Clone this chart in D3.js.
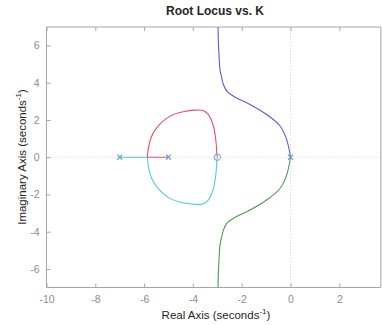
<!DOCTYPE html>
<html>
<head>
<meta charset="utf-8">
<script src="https://cdn.jsdelivr.net/npm/d3@7"></script>
<style>
body{margin:0;background:#fff;}
svg{display:block;font-family:"Liberation Sans",Arial,sans-serif;}
</style>
</head>
<body>
<script>
/* root locus branches: [real, imag] */
var redAxisSeg = [[-5,0],[-5.87,0]];
var cyanAxisSeg = [[-7,0],[-5.87,0]];
var redBranch = [[-5.87,0],[-5.82,0.5],[-5.7,1.1],[-5.48,1.59],[-4.94,2.21],[-4.39,2.45],[-3.9,2.53],[-3.6,2.51],[-3.37,2.3],[-3.16,1.68],[-3.05,0.79],[-3.02,0.2],[-3,0]];
var cyanBranch = [[-5.87,0],[-5.82,-0.5],[-5.7,-1.1],[-5.48,-1.59],[-4.94,-2.21],[-4.39,-2.45],[-3.9,-2.53],[-3.6,-2.51],[-3.37,-2.3],[-3.16,-1.68],[-3.05,-0.79],[-3.02,-0.2],[-3,0]];
var blueBranch = [[0,0],[-0.16,0.96],[-0.43,1.68],[-0.98,2.3],[-1.66,2.84],[-2.34,3.28],[-2.61,3.55],[-2.75,3.91],[-2.84,4.4],[-2.89,4.71],[-2.93,5.5],[-2.96,6.3],[-2.97,7.2]];
var greenBranch = [[0,0],[-0.16,-0.96],[-0.43,-1.68],[-0.98,-2.3],[-1.66,-2.84],[-2.34,-3.28],[-2.61,-3.55],[-2.75,-3.91],[-2.84,-4.4],[-2.89,-4.71],[-2.93,-5.5],[-2.96,-6.3],[-2.97,-7.2]];
var poles = [-7,-5,0];
var zeros = [-3];
var xTicks = [-10,-8,-6,-4,-2,0,2];
var yTicks = [-6,-4,-2,0,2,4,6];

var width = 382, height = 325;
var mLeft = 46.5, mRight = 380.8, mTop = 27, mBottom = 287.5;
var x = d3.scaleLinear().domain([-10,3.7]).range([mLeft,mRight]);
var y = d3.scaleLinear().domain([-7,7]).range([mBottom,mTop]);
var fmt = function(d){return String(d);};

var svg = d3.select("body").append("svg").attr("width",width).attr("height",height);
var axisCol = "#a6a6a6", textCol = "#8c8c8c";

svg.append("defs").append("clipPath").attr("id","clip").append("rect")
	.attr("x",mLeft).attr("y",mTop).attr("width",mRight-mLeft).attr("height",mBottom-mTop);

// dotted zero lines
svg.append("line").attr("x1",mLeft).attr("x2",mRight).attr("y1",y(0)).attr("y2",y(0))
	.attr("stroke","#d4d4d4").attr("stroke-width",1).attr("stroke-dasharray","1,2");
svg.append("line").attr("x1",x(0)).attr("x2",x(0)).attr("y1",mTop).attr("y2",mBottom)
	.attr("stroke","#d4d4d4").attr("stroke-width",1).attr("stroke-dasharray","1,2");

// axes
var xAxis = svg.append("g").attr("transform","translate(0,"+mBottom+")")
	.call(d3.axisBottom(x).tickValues(xTicks).tickSize(-4).tickPadding(8).tickFormat(fmt));
var xTop = svg.append("g").attr("transform","translate(0,"+mTop+")")
	.call(d3.axisTop(x).tickValues(xTicks).tickSize(-4).tickFormat(""));
var yAxis = svg.append("g").attr("transform","translate("+mLeft+",0)")
	.call(d3.axisLeft(y).tickValues(yTicks).tickSize(-4).tickPadding(7).tickFormat(fmt));
svg.append("line").attr("x1",mRight).attr("x2",mRight).attr("y1",mTop).attr("y2",mBottom)
	.attr("stroke",axisCol).attr("stroke-width",1);
[xAxis,xTop,yAxis].forEach(function(g){
	g.selectAll(".domain").attr("stroke",axisCol).attr("stroke-width",1);
	g.selectAll(".tick line").attr("stroke",axisCol);
	g.selectAll("text").attr("fill",textCol).attr("font-size","10.5px").attr("font-family","Liberation Sans, Arial, sans-serif");
});
xTop.select(".domain").attr("d","M"+mLeft+",0H"+mRight);
xAxis.select(".domain").attr("d","M"+mLeft+",0H"+mRight);
yAxis.select(".domain").attr("d","M0,"+mTop+"V"+mBottom);

// branches
var lineC = d3.line().x(function(d){return x(d[0]);}).y(function(d){return y(d[1]);}).curve(d3.curveCatmullRom.alpha(0.5));
var plot = svg.append("g").attr("clip-path","url(#clip)");
var branches = [
	{pts:cyanAxisSeg,col:"#4fcfd8"},
	{pts:cyanBranch,col:"#4fcfd8"},
	{pts:redAxisSeg,col:"#e8515a"},
	{pts:redBranch,col:"#e8515a"},
	{pts:blueBranch,col:"#5858e0"},
	{pts:greenBranch,col:"#4f9a4f"}
];
plot.selectAll(".branch").data(branches).enter().append("path")
	.attr("class","branch")
	.attr("d",function(d){return lineC(d.pts);})
	.attr("fill","none").attr("stroke",function(d){return d.col;}).attr("stroke-width",1.1);

// poles and zeros
var markCol = "#6f9fc4";
plot.selectAll(".pole").data(poles).enter().append("path")
	.attr("class","pole")
	.attr("d",function(d){var cx=x(d),cy=y(0),s=2.5;return "M"+(cx-s)+","+(cy-s)+"L"+(cx+s)+","+(cy+s)+"M"+(cx-s)+","+(cy+s)+"L"+(cx+s)+","+(cy-s);})
	.attr("stroke",markCol).attr("stroke-width",1.1);
plot.selectAll(".zero").data(zeros).enter().append("circle")
	.attr("class","zero").attr("cx",function(d){return x(d);}).attr("cy",y(0)).attr("r",3.2)
	.attr("fill","none").attr("stroke",markCol).attr("stroke-width",1);

// labels
svg.append("text").attr("x",215).attr("y",15).attr("text-anchor","middle")
	.attr("font-size","12px").attr("font-weight","bold").attr("fill","#262626").text("Root Locus vs. K");
var xl = svg.append("text").attr("x",216).attr("y",319).attr("text-anchor","middle")
	.attr("font-size","11.5px").attr("fill","#262626");
xl.append("tspan").text("Real Axis (seconds");
xl.append("tspan").attr("dy",-5).attr("font-size","8px").text("-1");
xl.append("tspan").attr("dy",5).text(")");
var yl = svg.append("text").attr("transform","translate(26,157) rotate(-90)").attr("text-anchor","middle")
	.attr("font-size","11.5px").attr("fill","#262626");
yl.append("tspan").text("Imaginary Axis (seconds");
yl.append("tspan").attr("dy",-5).attr("font-size","8px").text("-1");
yl.append("tspan").attr("dy",5).text(")");
</script>
</body>
</html>
